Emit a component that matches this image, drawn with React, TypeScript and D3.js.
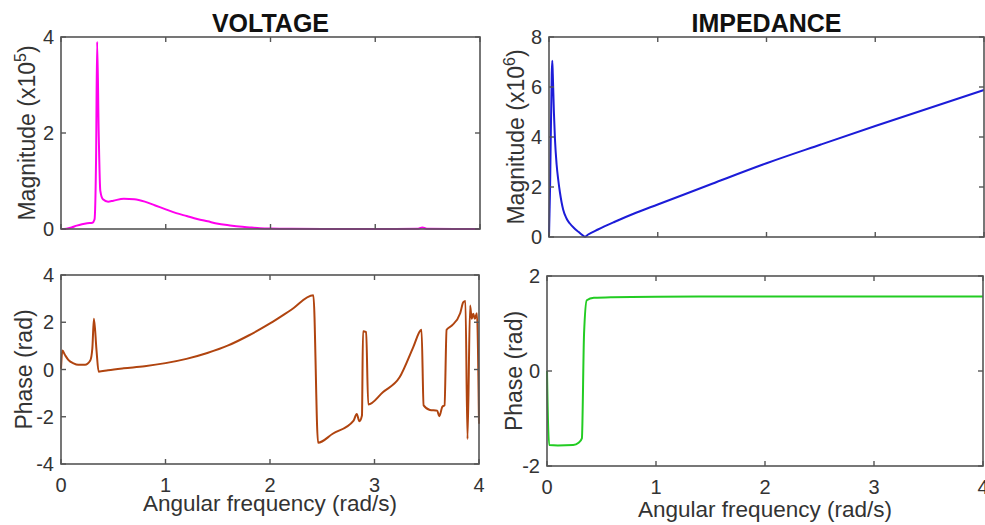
import React from 'react';
import * as d3 from 'd3';

// chart size
const width = 985;
const height = 525;

// frequency axis (rad/s), shared by all four panels
const xTicks = [0, 1, 2, 3, 4];

// voltage magnitude (x10^5) as [frequency, value]
const voltageMag: [number, number][] = [
  [0, 0], [0.05, 0.005], [0.1, 0.03], [0.15, 0.07], [0.2, 0.1], [0.25, 0.12],
  [0.3, 0.13], [0.32, 0.2], [0.335, 1.5], [0.345, 3.9], [0.36, 2.0], [0.375, 0.8],
  [0.4, 0.62], [0.45, 0.57], [0.5, 0.59], [0.6, 0.63], [0.7, 0.62], [0.8, 0.57],
  [0.9, 0.49], [1.0, 0.41], [1.1, 0.33], [1.2, 0.27], [1.3, 0.21], [1.4, 0.16],
  [1.5, 0.11], [1.6, 0.08], [1.7, 0.05], [1.8, 0.033], [1.9, 0.018], [2.0, 0.01],
  [2.2, 0.004], [2.5, 0.002], [3.0, 0.002], [3.4, 0.003], [3.45, 0.03], [3.5, 0.003],
  [4.0, 0.002],
];

// voltage phase (rad)
const voltagePhase: [number, number][] = [
  [0, 0.03], [0.013, 0.8], [0.04, 0.6], [0.07, 0.41], [0.12, 0.26], [0.165, 0.2],
  [0.23, 0.2], [0.28, 0.38], [0.3, 0.9], [0.315, 2.15], [0.34, 0.8], [0.36, -0.09],
  [0.45, -0.03], [0.6, 0.05], [0.8, 0.14], [1.0, 0.27], [1.2, 0.45], [1.4, 0.7],
  [1.6, 1.02], [1.8, 1.45], [2.0, 1.95], [2.2, 2.52], [2.415, 3.14], [2.46, -3.1],
  [2.6, -2.72], [2.8, -2.16], [2.83, -1.88], [2.855, -2.19], [2.88, -1.95],
  [2.89, 1.62], [2.92, 1.58], [2.94, -1.48], [3.08, -0.96], [3.24, -0.33],
  [3.37, 0.94], [3.44, 1.65], [3.45, 1.68], [3.47, -1.52], [3.53, -1.71],
  [3.6, -1.74], [3.62, -1.98], [3.65, -1.57], [3.67, -1.52], [3.69, 1.68],
  [3.74, 1.86], [3.82, 2.38], [3.85, 2.85], [3.87, 2.9], [3.89, -2.94],
  [3.915, 2.71], [3.93, 2.15], [3.945, 2.36], [3.96, 2.15], [3.98, 2.38], [4.0, -2.3],
];

// impedance magnitude (x10^6)
const impedanceMag: [number, number][] = [
  [0, 0], [0.01, 2], [0.025, 6.5], [0.03, 7.05], [0.035, 6.5], [0.045, 5],
  [0.055, 3.9], [0.07, 2.9], [0.086, 2.25], [0.1, 1.8], [0.13, 1.1], [0.16, 0.75],
  [0.19, 0.55], [0.23, 0.36], [0.27, 0.21], [0.3, 0.1], [0.33, 0.01], [0.36, 0.1],
  [0.45, 0.3], [0.6, 0.6], [0.8, 0.97], [1.0, 1.3], [1.5, 2.13], [2.0, 2.95],
  [2.5, 3.7], [3.0, 4.44], [3.5, 5.16], [4.0, 5.88],
];

// impedance phase (rad)
const impedancePhase: [number, number][] = [
  [0, 0], [0.003, -0.4], [0.02, -1.56], [0.1, -1.57], [0.24, -1.56], [0.29, -1.51],
  [0.32, -1.42], [0.34, 0.79], [0.365, 1.49], [0.43, 1.54], [0.6, 1.555],
  [1.0, 1.565], [2.0, 1.57], [3.0, 1.57], [4.0, 1.57],
];

const font = "'Liberation Sans', Arial, sans-serif";
const axisColor = '#555';
const textColor = '#333';

type PanelProps = {
  box: { left: number; right: number; top: number; bottom: number };
  yDomain: [number, number];
  yTicks: number[];
  data: [number, number][];
  color: string;
  ylabel: string;
  yexp?: string;
  ylabelX: number;
  title?: string;
  xlabelY?: number;
};

const Panel = ({ box, yDomain, yTicks, data, color, ylabel, yexp, ylabelX, title, xlabelY }: PanelProps) => {
  const x = d3.scaleLinear().domain([0, 4]).range([box.left, box.right]);
  const y = d3.scaleLinear().domain(yDomain).range([box.bottom, box.top]);
  const line = d3.line<[number, number]>()
    .x(d => x(d[0]))
    .y(d => y(d[1]))
    .curve(d3.curveMonotoneX);
  const tick = 5;
  const cx = (box.left + box.right) / 2;
  const cy = (box.top + box.bottom) / 2;

  return (
    <g>
      {title && (
        <text x={cx} y={32} textAnchor="middle" fontFamily={font} fontSize={25} fontWeight="bold" fill="#111">
          {title}
        </text>
      )}
      <path d={line(data) || ''} fill="none" stroke={color} strokeWidth={2} strokeLinejoin="round" />
      <rect x={box.left} y={box.top} width={box.right - box.left} height={box.bottom - box.top}
        fill="none" stroke={axisColor} strokeWidth={1.6} />
      {xTicks.map(t => (
        <g key={'x' + t}>
          <line x1={x(t)} x2={x(t)} y1={box.bottom} y2={box.bottom - tick} stroke={axisColor} strokeWidth={1.4} />
          <line x1={x(t)} x2={x(t)} y1={box.top} y2={box.top + tick} stroke={axisColor} strokeWidth={1.4} />
          {xlabelY !== undefined && (
            <text x={x(t)} y={box.bottom + 28} textAnchor="middle" fontFamily={font} fontSize={20} fill={textColor}>
              {t}
            </text>
          )}
        </g>
      ))}
      {yTicks.map(t => (
        <g key={'y' + t}>
          <line x1={box.left} x2={box.left + tick} y1={y(t)} y2={y(t)} stroke={axisColor} strokeWidth={1.4} />
          <line x1={box.right} x2={box.right - tick} y1={y(t)} y2={y(t)} stroke={axisColor} strokeWidth={1.4} />
          <text x={box.left - 7} y={y(t)} dy="0.36em" textAnchor="end" fontFamily={font} fontSize={20} fill={textColor}>
            {t}
          </text>
        </g>
      ))}
      <text transform={`translate(${ylabelX},${cy}) rotate(-90)`} textAnchor="middle"
        fontFamily={font} fontSize={23} fill={textColor}>
        {ylabel}
        {yexp && (
          <>
            <tspan>(x10</tspan>
            <tspan dy={-9} fontSize={16}>{yexp}</tspan>
            <tspan dy={9}>)</tspan>
          </>
        )}
      </text>
      {xlabelY !== undefined && (
        <text x={cx} y={xlabelY} textAnchor="middle" fontFamily={font} fontSize={22.5} fill={textColor}>
          Angular frequency (rad/s)
        </text>
      )}
    </g>
  );
};

const App = () => {
  return (
    <svg width={width} height={height} style={{ position: 'absolute', left: 0, top: 0, background: '#fff' }}>
      <Panel box={{ left: 61, right: 480, top: 37, bottom: 229 }} yDomain={[0, 4]} yTicks={[0, 2, 4]}
        data={voltageMag} color="#ff00ee" ylabel="Magnitude " yexp="5" ylabelX={35} title="VOLTAGE" />
      <Panel box={{ left: 61, right: 479, top: 275, bottom: 464 }} yDomain={[-4, 4]} yTicks={[-4, -2, 0, 2, 4]}
        data={voltagePhase} color="#b0440f" ylabel="Phase (rad)" ylabelX={32} xlabelY={511} />
      <Panel box={{ left: 549, right: 984, top: 37, bottom: 237 }} yDomain={[0, 8]} yTicks={[0, 2, 4, 6, 8]}
        data={impedanceMag} color="#1c1cd8" ylabel="Magnitude " yexp="6" ylabelX={524} title="IMPEDANCE" />
      <Panel box={{ left: 547, right: 983, top: 276, bottom: 466 }} yDomain={[-2, 2]} yTicks={[-2, 0, 2]}
        data={impedancePhase} color="#22cc22" ylabel="Phase (rad)" ylabelX={522} xlabelY={517} />
    </svg>
  );
};

export default App;
